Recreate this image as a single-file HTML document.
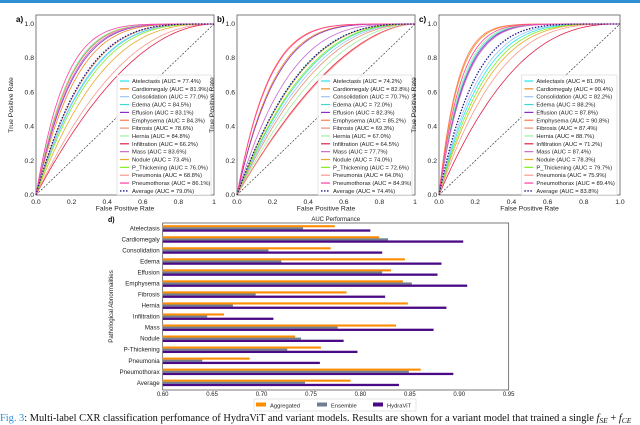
<!DOCTYPE html>
<html><head><meta charset="utf-8"><style>
html,body{margin:0;padding:0;background:#fff;width:640px;height:425px;overflow:hidden}
svg{display:block;font-family:"Liberation Sans",sans-serif}
</style></head><body>
<svg id="fig" width="640" height="425" viewBox="0 0 640 425">
<rect x="0" y="0" width="640" height="3" fill="#2e8fd3"/>
<text x="0" y="421" font-family="Liberation Serif, serif" font-size="10.4" fill="#111"><tspan fill="#2e8fd3">Fig. 3</tspan>: Multi-label CXR classification perfomance of HydraViT and variant models. Results are shown for a variant model that trained a single <tspan font-style="italic">f</tspan><tspan font-style="italic" font-size="7.5" dy="2">SE</tspan><tspan dy="-2"> + </tspan><tspan font-style="italic">f</tspan><tspan font-style="italic" font-size="7.5" dy="2">CE</tspan></text>
</svg>
<script>
const rocClasses = ["Atelectasis","Cardiomegaly","Consolidation","Edema","Effusion","Emphysema","Fibrosis","Hernia","Infiltration","Mass","Nodule","P_Thickening","Pneumonia","Pneumothorax"];
const rocColors = ["#22e6f0","#f08a24","#9cc4f5","#3fd8d0","#8a2ec8","#ff7a50","#e89070","#9ff09f","#e0204a","#c86ad0","#e8a830","#80f020","#f79a8a","#ff3ea0"];
const aucA = [77.4,81.9,77.0,84.5,83.1,84.3,78.6,84.8,66.2,83.6,73.4,76.0,68.8,86.1];
const aucB = [74.2,82.8,70.7,72.0,82.3,85.2,69.3,67.0,64.5,77.7,74.0,72.6,64.0,84.9];
const aucC = [81.0,90.4,82.2,88.2,87.8,90.8,87.4,88.7,71.2,87.4,78.3,79.7,75.9,89.4];
const avgAUC = [79.0,74.4,83.8];
const xTicks = [0,0.2,0.4,0.6,0.8,1.0];
const yTicks = [0,0.2,0.4,0.6,0.8,1.0];

const barCats = ["Atelectasis","Cardiomegaly","Consolidation","Edema","Effusion","Emphysema","Fibrosis","Hernia","Infiltration","Mass","Nodule","P-Thickening","Pneumonia","Pneumothorax","Average"];
const aggVals = [0.774,0.819,0.770,0.845,0.831,0.843,0.786,0.848,0.662,0.836,0.734,0.760,0.688,0.861,0.790];
const ensVals = [0.742,0.828,0.707,0.720,0.822,0.852,0.694,0.671,0.645,0.777,0.740,0.726,0.640,0.849,0.744];
const hydVals = [0.810,0.904,0.822,0.882,0.878,0.908,0.825,0.887,0.712,0.874,0.783,0.797,0.759,0.894,0.839];
const barTicks = [0.60,0.65,0.70,0.75,0.80,0.85,0.90,0.95];

const NS="http://www.w3.org/2000/svg";
const svg=document.getElementById('fig');
function mk(tag,attrs,parent){const e=document.createElementNS(NS,tag);for(const k in attrs)e.setAttribute(k,attrs[k]);(parent||svg).appendChild(e);return e;}

function rocPanel(label,x0,x1,y0,y1,aucs,avg){
  const g=mk('g',{});
  
  
  const sx=v=>x0+v*(x1-x0), sy=v=>y0-v*(y0-y1);
  const top=15,bot=195;
  const fr=mk('rect',{x:x0,y:top,width:x1-x0,height:bot-top,fill:'#fff',stroke:'#444','stroke-width':0.7},g);
  
  const t=mk('text',{x:x0-20,y:22,'font-size':8,'font-weight':'bold'},g);t.textContent=label+')';
  
  xTicks.forEach(v=>{const tx=mk('text',{x:sx(v),y:bot+9,'font-size':6.8,'text-anchor':'middle',fill:'#222'},g);tx.textContent=(v===1?(label==='c'?'1.0':'1'):v.toFixed(1));
    });
  yTicks.forEach(v=>{const ty=mk('text',{x:x0-2,y:sy(v)+2,'font-size':6.8,'text-anchor':'end',fill:'#222'},g);ty.textContent=v.toFixed(1);
    });
  const xl=mk('text',{x:(x0+x1)/2,y:bot+15.5,'font-size':6.8,'text-anchor':'middle',fill:'#222'},g);xl.textContent='False Positive Rate';
  
  const yl=mk('text',{x:0,y:0,'font-size':6.8,'text-anchor':'middle',fill:'#222',transform:`translate(${x0-23},${(top+bot)/2}) rotate(-90)`},g);yl.textContent='True Positive Rate';
  
  const dg=mk('line',{x1:sx(0),y1:sy(0),x2:sx(1),y2:sy(1),stroke:'#222','stroke-width':0.6,'stroke-dasharray':'2,1.5'},g);
  
  function curve(auc,color,w,dash,name){
    const a=auc/100,k=a/(1-a);let d='';
    for(let i=0;i<=60;i++){const x=Math.pow(i/60,2);const y=1-Math.pow(1-x,k);d+=(i?'L':'M')+sx(x).toFixed(1)+','+sy(y).toFixed(1);}
    const p=mk('path',{d:d,fill:'none',stroke:color,'stroke-width':w},g);if(dash)p.setAttribute('stroke-dasharray',dash);
    
  }
  aucs.forEach((a,i)=>curve(a,rocColors[i],0.8,null,'roc-curve-'+rocClasses[i].toLowerCase()));
  curve(avg,'#1a1a8c',1.3,'1.5,1.5','roc-curve-average');
  const lx=x1-97*(x1-x0)/178, ly=75;
  const lb=mk('rect',{x:lx,y:ly,width:x1-3-lx,height:120,fill:'#fff','fill-opacity':0.85,stroke:'#ccc','stroke-width':0.5},g);
  
  const names=rocClasses.concat(['Average']);const vals=aucs.concat([avg]);
  names.forEach((n,i)=>{const y=ly+6+i*7.85;
    const ln=mk('line',{x1:lx+3,y1:y,x2:lx+12,y2:y,stroke:i<14?rocColors[i]:'#1a1a8c','stroke-width':i<14?1.2:1.4},g);if(i===14)ln.setAttribute('stroke-dasharray','1.5,1.5');
    
    const tt=mk('text',{x:lx+15,y:y+2,'font-size':5.8,fill:'#222'},g);tt.textContent=n+' (AUC = '+vals[i].toFixed(1)+'%)';
    });
}
rocPanel('a',36,214,195,24,aucA,avgAUC[0]);
rocPanel('b',237,415,195,24,aucB,avgAUC[1]);
rocPanel('c',439,620,195,24,aucC,avgAUC[2]);

(function(){
  const g=mk('g',{});
  const X0=162.7,X1=508.7,top=223,bot=390;
  const sx=v=>X0+(v-0.60)/(0.95-0.60)*(X1-X0);
  const rowC=i=>228.4+i*11.03;
  const fr=mk('rect',{x:X0,y:top,width:X1-X0,height:bot-top,fill:'#fff',stroke:'#444','stroke-width':0.7},g);
  
  const tl=mk('text',{x:(X0+X1)/2,y:221,'font-size':6,'text-anchor':'middle',fill:'#222'},g);tl.textContent='AUC Performance';
  
  const dl=mk('text',{x:108,y:222,'font-size':7,'font-weight':'bold'},g);dl.textContent='d)';
  
  const yt=mk('text',{x:0,y:0,'font-size':6.2,'text-anchor':'middle',fill:'#222',transform:`translate(113,${(top+bot)/2}) rotate(-90)`},g);yt.textContent='Pathological Abnormalities';
  
  barTicks.forEach(v=>{const t=mk('text',{x:sx(v),y:396,'font-size':6,'text-anchor':'middle',fill:'#222'},g);t.textContent=v.toFixed(2);
    });
  barCats.forEach((c,i)=>{const cy=rowC(i);
    const t=mk('text',{x:X0-3,y:cy+2,'font-size':6.2,'text-anchor':'end',fill:'#222'},g);t.textContent=c;
    
    const r1=mk('rect',{x:X0,y:cy-3.2,width:sx(aggVals[i])-X0,height:2.1,fill:'#ff8c00'},g);
    
    const r2=mk('rect',{x:X0,y:cy-1.1,width:sx(ensVals[i])-X0,height:2.1,fill:'#6f7f90'},g);
    
    const r3=mk('rect',{x:X0,y:cy+1,width:sx(hydVals[i])-X0,height:2.3,fill:'#4b0a85'},g);
    
  });
  const lb=mk('rect',{x:254,y:399,width:162,height:12,fill:'#fff',stroke:'#ccc','stroke-width':0.5},g);
  
  [['Aggregated','#ff8c00',256],['Ensemble','#6f7f90',317],['HydraViT','#4b0a85',373]].forEach(e=>{
    const s=mk('rect',{x:e[2],y:402.5,width:10,height:4,fill:e[1]},g);
    
    const t=mk('text',{x:e[2]+14,y:407.5,'font-size':5.8,fill:'#222'},g);t.textContent=e[0];
    
  });
})();
</script>
</body></html>
